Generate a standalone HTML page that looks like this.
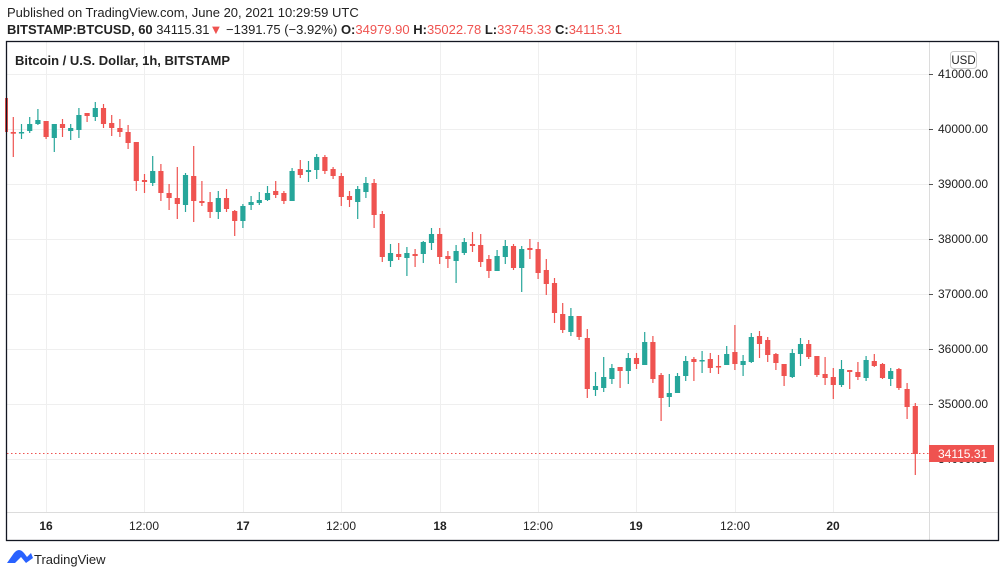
<!DOCTYPE html>
<html><head><meta charset="utf-8">
<style>
html,body{margin:0;padding:0;background:#fff;width:1006px;height:577px;overflow:hidden;font-family:"Liberation Sans",sans-serif}
svg{position:absolute;left:0;top:0}
</style></head><body>
<svg id="s" width="1006" height="577" viewBox="0 0 1006 577" xmlns="http://www.w3.org/2000/svg">
<text x="7" y="17" font-size="13" fill="#222">Published on TradingView.com, June 20, 2021 10:29:59 UTC</text>
<text x="7" y="34" font-size="13" fill="#222"><tspan font-weight="bold">BITSTAMP:BTCUSD, 60</tspan> 34115.31<tspan fill="#ef5350">▼</tspan> −1391.75 (−3.92%) <tspan font-weight="bold">O:</tspan><tspan fill="#ef5350">34979.90</tspan> <tspan font-weight="bold">H:</tspan><tspan fill="#ef5350">35022.78</tspan> <tspan font-weight="bold">L:</tspan><tspan fill="#ef5350">33745.33</tspan> <tspan font-weight="bold">C:</tspan><tspan fill="#ef5350">34115.31</tspan></text>
<g stroke="#efefef" stroke-width="1">
<line x1="46.5" y1="41" x2="46.5" y2="512"/><line x1="144.5" y1="41" x2="144.5" y2="512"/><line x1="243.5" y1="41" x2="243.5" y2="512"/><line x1="341.5" y1="41" x2="341.5" y2="512"/><line x1="440.5" y1="41" x2="440.5" y2="512"/><line x1="538.5" y1="41" x2="538.5" y2="512"/><line x1="636.5" y1="41" x2="636.5" y2="512"/><line x1="735.5" y1="41" x2="735.5" y2="512"/><line x1="833.5" y1="41" x2="833.5" y2="512"/>
<line x1="7" y1="74.5" x2="929" y2="74.5"/><line x1="7" y1="129.5" x2="929" y2="129.5"/><line x1="7" y1="184.5" x2="929" y2="184.5"/><line x1="7" y1="239.5" x2="929" y2="239.5"/><line x1="7" y1="294.5" x2="929" y2="294.5"/><line x1="7" y1="349.5" x2="929" y2="349.5"/><line x1="7" y1="404.5" x2="929" y2="404.5"/><line x1="7" y1="459.5" x2="929" y2="459.5"/>
</g>
<line x1="929.5" y1="41" x2="929.5" y2="540" stroke="#dcdcdc"/>
<line x1="7" y1="512.5" x2="999" y2="512.5" stroke="#dcdcdc"/>
<g id="c"></g>
<line x1="7" y1="453.5" x2="929" y2="453.5" stroke="#ef5350" stroke-dasharray="1.5,2.5"/>
<rect x="6.5" y="41.5" width="992" height="499" fill="none" stroke="#131722" stroke-width="1.3"/>
<text x="15" y="65" font-size="13" font-weight="bold" fill="#222">Bitcoin / U.S. Dollar, 1h, BITSTAMP</text>
<rect x="950.5" y="51.5" width="26" height="17" rx="3" fill="#fff" stroke="#ccc"/>
<text x="963.5" y="64" font-size="11.5" fill="#222" text-anchor="middle">USD</text>
<g font-size="12" fill="#222">
<text x="938" y="78">41000.00</text><text x="938" y="133">40000.00</text><text x="938" y="188">39000.00</text><text x="938" y="243">38000.00</text><text x="938" y="298">37000.00</text><text x="938" y="353">36000.00</text><text x="938" y="408">35000.00</text><text x="938" y="463">34000.00</text>
</g>
<g stroke="#555"><line x1="929" y1="74.5" x2="933" y2="74.5"/><line x1="929" y1="129.5" x2="933" y2="129.5"/><line x1="929" y1="184.5" x2="933" y2="184.5"/><line x1="929" y1="239.5" x2="933" y2="239.5"/><line x1="929" y1="294.5" x2="933" y2="294.5"/><line x1="929" y1="349.5" x2="933" y2="349.5"/><line x1="929" y1="404.5" x2="933" y2="404.5"/></g>
<rect x="929" y="445" width="65" height="17" fill="#ef5350"/>
<text x="938" y="458" font-size="12" fill="#fff">34115.31</text>
<g font-size="12" fill="#222" text-anchor="middle">
<text x="46" y="530" font-weight="bold">16</text><text x="144" y="530">12:00</text><text x="243" y="530" font-weight="bold">17</text><text x="341" y="530">12:00</text><text x="440" y="530" font-weight="bold">18</text><text x="538" y="530">12:00</text><text x="636" y="530" font-weight="bold">19</text><text x="735" y="530">12:00</text><text x="833" y="530" font-weight="bold">20</text>
</g>
<path d="M7 563 L14 553 Q19 547 24 553 L27 557 L31 553 L33 558 L26 563 L21 557 L15 563 Z" fill="#2962ff"/>
<text x="34" y="564" font-size="13" fill="#222">TradingView</text>
</svg>
<script>
var D=[
[1,132,133.7,117,157],[0,132,132,124,139],[0,131,124,117,133],[0,124,120,109,125],[1,121,137,121,139],[0,138,124,124,152],[1,124,128,119,137],[0,131,128,124,140],[0,130,115,108,138],[1,113,116,113,122],
[0,117,108,102,121],[1,108,124,104,128],[1,123,128,115,136],[1,128,132,119,137],[1,132,143,125,149],[1,142,181,142,191],[1,180,182,174,193],[0,183,171,156,186],[1,171,193,164,201],[1,193,198,184,210],
[1,198,204,167,219],[0,205,175,173,212],[1,176,201,146,222],[1,201,203,181,206],[1,202,212,192,218],[0,212,198,191,219],[1,198,209,189,212],[1,211,221,210,236],[0,221,206,204,228],[0,205,202,196,210],
[0,203,200,192,205],[0,200,193,186,201],[1,191,195,181,198],[1,193,201,191,204],[0,201,171,168,201],[1,169,175,160,178],[0,172,170,161,182],[0,170,157,154,179],[1,157,171,155,174],[1,169,176,167,179],
[1,176,197,173,206],[1,196,200,191,207],[0,202,189,186,219],[0,192,183,177,198],[1,183,215,179,228],[1,214,257,211,262],[0,261,253,244,267],[1,254,257,243,260],[0,258,253,247,276],[1,254,256,249,267],
[0,254,242,241,263],[0,243,234,228,250],[1,234,257,228,264],[1,256,259,251,268],[0,261,251,245,283],[0,253,242,238,255],[1,244,246,232,252],[1,245,262,234,267],[1,259,271,255,278],[0,271,256,250,271],
[0,257,246,240,264],[1,246,268,244,270],[0,268,249,246,292],[1,248,250,239,259],[1,249,273,242,279],[1,270,284,259,295],[1,283,313,278,323],[1,314,330,303,333],[0,332,316,308,336],[1,316,337,316,340],
[1,338,389,329,398],[0,390,386,372,396],[0,388,377,357,392],[0,379,368,364,384],[1,367,371,367,388],[0,371,358,353,384],[1,358,364,353,369],[0,365,342,332,365],[1,342,379,336,383],[1,375,398,373,421],
[0,397,393,374,407],[0,393,376,373,393],[0,376,361,356,381],[1,359,362,357,381],[0,360,360,351,373],[1,359,368,353,373],[1,366,366,355,374],[0,365,354,346,365],[1,352,364,325,370],[0,365,361,355,376],
[0,362,337,333,363],[1,336,344,331,358],[1,340,355,337,362],[1,354,363,353,370],[1,364,376,364,386],[0,377,353,349,378],[0,354,344,338,366],[1,344,357,340,359],[1,356,375,356,377],[1,374,378,357,385],
[1,377,385,368,399],[0,385,369,360,387],[1,370,372,370,389],[1,372,377,362,380],[0,378,360,356,381],[1,361,366,354,367],[1,364,378,363,379],[0,379,371,368,386],[1,369,388,368,390],[1,389,407,383,419],
[1,406,454,403,475]];
var h='<rect x="5" y="98" width="3" height="34" fill="#ef5350"/>';
for(var i=0;i<D.length;i++){var d=D[i],x=13.3+8.2*i,c=d[0]?'#ef5350':'#26a69a';
var t=Math.min(d[1],d[2]),b=Math.max(d[1],d[2]);if(b-t<1.5){b=t+1.5;}
h+='<line x1="'+x.toFixed(1)+'" y1="'+d[3]+'" x2="'+x.toFixed(1)+'" y2="'+d[4]+'" stroke="'+c+'" stroke-width="1.2"/>';
h+='<rect x="'+(x-2.6).toFixed(1)+'" y="'+t+'" width="5.2" height="'+(b-t)+'" fill="'+c+'"/>';}
document.getElementById('c').innerHTML=h;
</script>
</body></html>
